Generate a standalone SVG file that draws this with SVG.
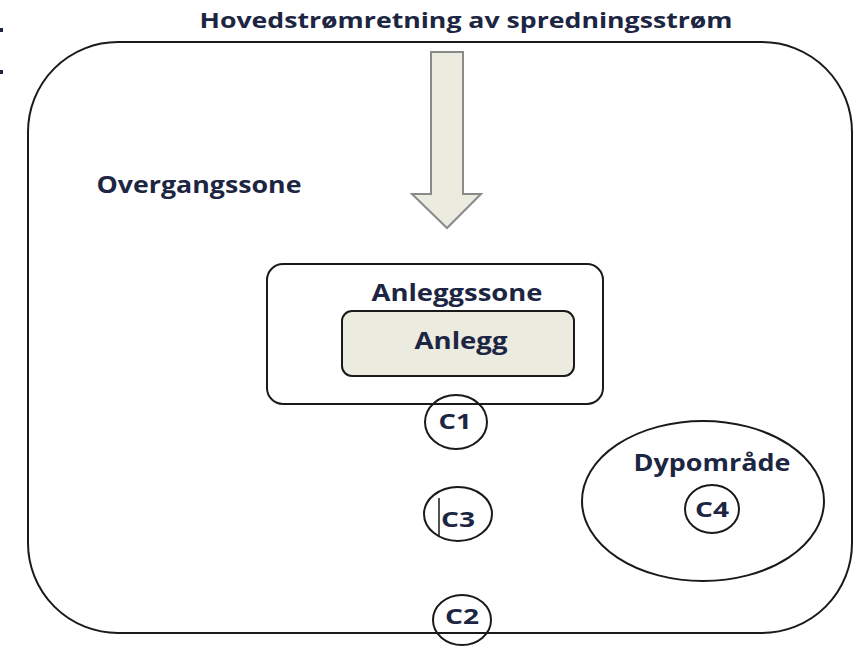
<svg xmlns="http://www.w3.org/2000/svg" width="859" height="648" viewBox="0 0 859 648">
<style>
.t{font-family:"Open Sans","Liberation Sans",sans-serif;font-weight:700;fill:#1c2542;text-anchor:middle}
.ln{fill:none;stroke:#1a1a1a;stroke-width:2}
.box{fill:#ECEBE0;stroke:#1a1a1a;stroke-width:2}
</style>
<rect width="859" height="648" fill="#fff"/>
<rect x="0" y="28" width="3" height="4" fill="#1c2542"/>
<rect x="0" y="70" width="3" height="4" fill="#1c2542"/>
<g id="title"><text class="t" x="466" y="28" font-size="22" textLength="533" lengthAdjust="spacingAndGlyphs">Hovedstrømretning av spredningsstrøm</text></g>
<g id="overgangssone">
<rect class="ln" x="28" y="42" width="824" height="591" rx="90" ry="90"/>
<text class="t" x="199" y="193" font-size="23" textLength="205" lengthAdjust="spacingAndGlyphs">Overgangssone</text>
</g>
<g id="connectors">
<path d="M431,52 H463 V194 H481 L447,228 L412,194 H431 Z" fill="#ECEBE0" stroke="#8a8a8a" stroke-width="2"/>
</g>
<g id="anleggssone">
<rect class="ln" x="267" y="264" width="336" height="140" rx="16" ry="16"/>
<text class="t" x="457" y="301" font-size="23" textLength="171" lengthAdjust="spacingAndGlyphs">Anleggssone</text>
</g>
<g id="anlegg">
<rect class="box" x="342" y="311" width="232" height="65" rx="10" ry="10"/>
<text class="t" x="461" y="349" font-size="23" textLength="93" lengthAdjust="spacingAndGlyphs">Anlegg</text>
</g>
<g id="c1">
<ellipse class="ln" cx="456" cy="422" rx="31" ry="27"/>
<text class="t" x="455" y="429" font-size="22" textLength="33" lengthAdjust="spacingAndGlyphs">C1</text>
</g>
<g id="c3">
<ellipse class="ln" cx="458" cy="514" rx="34" ry="27"/>
<text class="t" x="458" y="527" font-size="22" textLength="34" lengthAdjust="spacingAndGlyphs">C3</text>
<line x1="439" y1="498" x2="439" y2="537" stroke="#1a1a1a" stroke-width="1.5"/>
</g>
<g id="c2">
<ellipse class="ln" cx="462" cy="620" rx="29" ry="25"/>
<text class="t" x="462" y="624" font-size="22" textLength="34" lengthAdjust="spacingAndGlyphs">C2</text>
</g>
<g id="dypomrade">
<ellipse class="ln" cx="703" cy="501" rx="121" ry="80"/>
<text class="t" x="712" y="471" font-size="23" textLength="157" lengthAdjust="spacingAndGlyphs">Dypområde</text>
</g>
<g id="c4">
<ellipse class="ln" cx="712" cy="509" rx="27" ry="24"/>
<text class="t" x="712" y="517" font-size="22" textLength="34" lengthAdjust="spacingAndGlyphs">C4</text>
</g>
</svg>
